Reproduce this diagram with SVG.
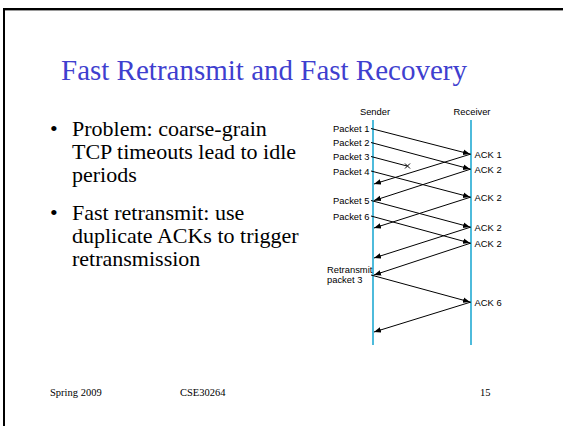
<svg xmlns="http://www.w3.org/2000/svg" width="563" height="426" viewBox="0 0 563 426">
  <defs>
    <marker id="head" viewBox="0 0 10 10" refX="10" refY="5" markerWidth="7" markerHeight="7" markerUnits="userSpaceOnUse" orient="auto">
      <path d="M0,1 L10,5 L0,9 z" fill="#000"/>
    </marker>
    <style>
      .title { font-family: "Liberation Serif", serif; font-size: 29px; fill: #3f3fcf; }
      .body { font-family: "Liberation Serif", serif; font-size: 22px; fill: #000; }
      .foot { font-family: "Liberation Serif", serif; font-size: 10.5px; fill: #000; }
      .lbl { font-family: "Liberation Sans", sans-serif; font-size: 9.4px; fill: #000; }
      .life { stroke: #3ab4d8; stroke-width: 1.8; }
      .msg { stroke: #000; stroke-width: 1; fill: none; marker-end: url(#head); }
      .lost { stroke: #000; stroke-width: 1; fill: none; }
    </style>
  </defs>

  <rect width="563" height="426" fill="#fff"/>

  <!-- slide frame -->
  <g id="frame">
    <line x1="4" y1="10.5" x2="563" y2="10.5" stroke="#9a9a9a" stroke-width="1"/>
    <line x1="4" y1="9" x2="563" y2="9" stroke="#000" stroke-width="2"/>
    <line x1="4" y1="8" x2="4" y2="426" stroke="#000" stroke-width="2"/>
  </g>

  <text id="title" class="title" x="264" y="80" text-anchor="middle">Fast Retransmit and Fast Recovery</text>

  <g id="bullets">
    <text class="body" x="50" y="136">•</text>
    <text class="body" x="72" y="136">Problem: coarse-grain</text>
    <text class="body" x="72" y="159">TCP timeouts lead to idle</text>
    <text class="body" x="72" y="182">periods</text>
    <text class="body" x="50" y="220">•</text>
    <text class="body" x="72" y="220">Fast retransmit: use</text>
    <text class="body" x="72" y="243">duplicate ACKs to trigger</text>
    <text class="body" x="72" y="266">retransmission</text>
  </g>

  <g id="sender">
    <line class="life" x1="373" y1="120" x2="373" y2="345"/>
    <text class="lbl" x="375" y="115" text-anchor="middle">Sender</text>
  </g>
  <g id="receiver">
    <line class="life" x1="471" y1="120" x2="471" y2="345"/>
    <text class="lbl" x="472" y="115" text-anchor="middle">Receiver</text>
  </g>

  <g id="sender-labels" class="lbl" text-anchor="end">
    <text class="lbl" x="369.5" y="132">Packet 1</text>
    <text class="lbl" x="369.5" y="146">Packet 2</text>
    <text class="lbl" x="369.5" y="160">Packet 3</text>
    <text class="lbl" x="369.5" y="174.5">Packet 4</text>
    <text class="lbl" x="369.5" y="204">Packet 5</text>
    <text class="lbl" x="369.5" y="219.5">Packet 6</text>
    <text class="lbl" x="327" y="273.3" text-anchor="start">Retransmit</text>
    <text class="lbl" x="327" y="283.3" text-anchor="start">packet 3</text>
  </g>

  <g id="receiver-labels">
    <text class="lbl" x="474.5" y="157.5">ACK 1</text>
    <text class="lbl" x="474.5" y="172.5">ACK 2</text>
    <text class="lbl" x="474.5" y="200.5">ACK 2</text>
    <text class="lbl" x="474.5" y="230.5">ACK 2</text>
    <text class="lbl" x="474.5" y="246.5">ACK 2</text>
    <text class="lbl" x="474.5" y="305.5">ACK 6</text>
  </g>

  <g id="connectors">
    <!-- data segments -->
    <line class="msg" x1="371" y1="128.5" x2="470" y2="154"/>
    <line class="msg" x1="371" y1="142.5" x2="470" y2="169"/>
    <line class="lost" x1="371" y1="156.5" x2="407" y2="166"/>
    <line class="msg" x1="371" y1="171" x2="470" y2="197"/>
    <line class="msg" x1="371" y1="200.5" x2="470" y2="227"/>
    <line class="msg" x1="371" y1="216" x2="470" y2="243"/>
    <line class="msg" x1="371" y1="275" x2="470" y2="302"/>
    <!-- acknowledgements -->
    <line class="msg" x1="471" y1="154" x2="374" y2="184"/>
    <line class="msg" x1="471" y1="169" x2="374" y2="200.5"/>
    <line class="msg" x1="471" y1="197" x2="374" y2="228"/>
    <line class="msg" x1="471" y1="227" x2="374" y2="258"/>
    <line class="msg" x1="471" y1="243" x2="374" y2="275"/>
    <line class="msg" x1="471" y1="302" x2="374" y2="332"/>
    <!-- loss mark -->
    <path class="lost" d="M405,163.5 L410,168.5 M410,163.5 L405,168.5"/>
  </g>

  <g id="footer">
    <text class="foot" x="50" y="396">Spring 2009</text>
    <text class="foot" x="180" y="396">CSE30264</text>
    <text class="foot" x="480" y="396">15</text>
  </g>
</svg>
